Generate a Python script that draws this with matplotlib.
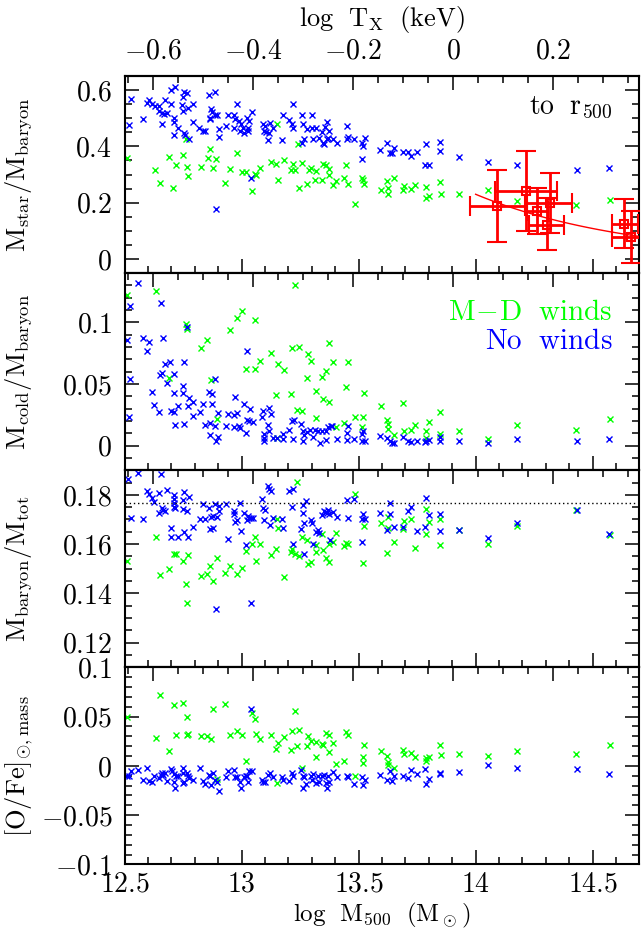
import numpy as np
import matplotlib
matplotlib.use("Agg")
import matplotlib.pyplot as plt
from matplotlib.ticker import MultipleLocator, FixedLocator, FuncFormatter, NullFormatter

plt.rcParams.update({
    "font.family": "serif",
    "font.serif": ["cmr10"],
    "mathtext.fontset": "cm",
    "axes.formatter.use_mathtext": True,
    "font.size": 20,
})

BLUE = "#0000ff"
GREEN = "#00ff00"
RED = "#ff0000"

# ---- panel 1: M_star / M_baryon  [log M500, value]
p1_blue = np.array([
    [12.526, 0.569], [12.517, 0.475], [12.580, 0.496], [12.594, 0.555], [12.605, 0.563],
    [12.615, 0.551], [12.630, 0.545], [12.648, 0.545], [12.648, 0.525], [12.658, 0.519],
    [12.668, 0.516], [12.658, 0.478], [12.672, 0.566], [12.682, 0.519], [12.697, 0.549],
    [12.697, 0.599], [12.715, 0.611], [12.711, 0.501], [12.711, 0.486], [12.711, 0.441],
    [12.729, 0.466], [12.744, 0.546], [12.748, 0.525], [12.751, 0.576], [12.754, 0.592],
    [12.768, 0.588], [12.772, 0.537], [12.791, 0.551], [12.793, 0.486], [12.754, 0.448],
    [12.758, 0.441], [12.776, 0.425], [12.819, 0.466], [12.836, 0.454], [12.843, 0.454],
    [12.862, 0.581], [12.868, 0.533], [12.872, 0.522], [12.865, 0.501], [12.865, 0.496],
    [12.886, 0.592], [12.886, 0.513], [12.896, 0.513], [12.903, 0.463], [12.905, 0.434],
    [12.933, 0.474], [12.943, 0.513], [12.967, 0.510], [12.972, 0.498], [12.967, 0.466],
    [12.979, 0.551], [12.990, 0.490], [12.996, 0.481], [13.004, 0.466], [12.993, 0.454],
    [13.011, 0.446], [13.021, 0.501], [13.028, 0.466], [13.028, 0.454], [13.033, 0.490],
    [13.043, 0.522], [13.038, 0.286], [12.890, 0.179], [13.090, 0.478], [13.095, 0.454],
    [13.100, 0.472], [13.104, 0.451], [13.121, 0.484], [13.115, 0.448], [13.132, 0.466],
    [13.114, 0.421], [13.171, 0.422], [13.175, 0.510], [13.204, 0.492], [13.214, 0.481],
    [13.218, 0.464], [13.221, 0.552], [13.256, 0.510], [13.261, 0.478], [13.256, 0.413],
    [13.266, 0.425], [13.278, 0.463], [13.299, 0.513], [13.306, 0.425], [13.299, 0.466],
    [13.318, 0.466], [13.332, 0.431], [13.342, 0.451], [13.346, 0.413], [13.356, 0.470],
    [13.363, 0.488], [13.375, 0.454], [13.363, 0.425], [13.352, 0.407], [13.370, 0.431],
    [13.389, 0.427], [13.409, 0.411], [13.449, 0.427], [13.452, 0.472], [13.456, 0.434],
    [13.480, 0.427], [13.513, 0.413], [13.517, 0.401], [13.527, 0.430], [13.513, 0.356],
    [13.591, 0.387], [13.622, 0.413], [13.634, 0.375], [13.641, 0.378], [13.651, 0.395],
    [13.688, 0.381], [13.712, 0.380], [13.722, 0.366], [13.751, 0.380], [13.783, 0.333],
    [13.790, 0.407], [13.802, 0.334], [13.848, 0.417], [13.848, 0.383], [13.929, 0.362],
    [14.053, 0.346], [14.177, 0.333], [14.433, 0.316], [14.570, 0.324],
])
p1_green = np.array([
    [12.509, 0.359], [12.630, 0.316], [12.651, 0.269], [12.708, 0.251], [12.689, 0.362],
    [12.719, 0.335], [12.751, 0.369], [12.768, 0.328], [12.772, 0.295], [12.762, 0.427],
    [12.825, 0.327], [12.855, 0.358], [12.865, 0.392], [12.879, 0.322], [12.890, 0.356],
    [12.929, 0.269], [12.950, 0.319], [12.981, 0.378], [13.000, 0.309], [13.017, 0.309],
    [13.043, 0.240], [13.057, 0.301], [13.061, 0.297], [13.078, 0.322], [13.124, 0.345],
    [13.147, 0.339], [13.154, 0.281], [13.150, 0.478], [13.181, 0.352], [13.209, 0.315],
    [13.218, 0.336], [13.228, 0.316], [13.245, 0.253], [13.256, 0.341], [13.281, 0.265],
    [13.289, 0.315], [13.295, 0.322], [13.318, 0.313], [13.313, 0.281], [13.342, 0.281],
    [13.346, 0.339], [13.360, 0.334], [13.373, 0.319], [13.375, 0.299], [13.389, 0.264],
    [13.403, 0.276], [13.439, 0.287], [13.446, 0.334], [13.456, 0.267], [13.484, 0.197],
    [13.513, 0.289], [13.517, 0.281], [13.523, 0.268], [13.242, 0.407],
    [13.594, 0.244], [13.622, 0.277], [13.627, 0.254], [13.627, 0.232], [13.651, 0.287],
    [13.691, 0.244], [13.695, 0.260], [13.722, 0.250], [13.741, 0.262], [13.788, 0.256],
    [13.790, 0.218], [13.802, 0.224], [13.848, 0.274], [13.850, 0.232], [13.929, 0.230],
    [14.054, 0.244], [14.175, 0.206], [14.431, 0.191], [14.574, 0.209],
])

# observed clusters (log M500, f_star) with error bar ends
obs_m = [14.092, 14.214, 14.263, 14.316, 14.303, 14.635, 14.664]
obs_m_lo = [13.978, 14.082, 14.218, 14.218, 14.229, 14.581, 14.585]
obs_m_hi = [14.211, 14.346, 14.311, 14.414, 14.379, 14.695, 14.716]
obs_f = [0.189, 0.242, 0.169, 0.198, 0.1215, 0.126, 0.077]
obs_f_lo = [0.061, 0.098, 0.0885, 0.094, 0.033, 0.038, -0.014]
obs_f_hi = [0.315, 0.383, 0.254, 0.304, 0.215, 0.212, 0.171]
# power-law fit to the observations
fit_m0, fit_norm, fit_slope = 14.0, 0.230, -0.653
fit_range = (14.0, 14.72)

# ---- panel 2: M_cold / M_baryon
p2_blue = np.array([
    [12.558, 0.1321], [12.523, 0.1134], [12.509, 0.0858], [12.523, 0.0539], [12.520, 0.0228],
    [12.580, 0.0876], [12.605, 0.0839], [12.597, 0.0766], [12.654, 0.1155], [12.662, 0.0876],
    [12.615, 0.0432], [12.625, 0.0330], [12.648, 0.0271], [12.672, 0.0665], [12.651, 0.0576],
    [12.658, 0.0585], [12.682, 0.0509], [12.694, 0.0678], [12.711, 0.0582], [12.697, 0.0284],
    [12.711, 0.0276], [12.711, 0.0426], [12.715, 0.0164], [12.729, 0.0324], [12.751, 0.0485],
    [12.748, 0.0429], [12.754, 0.0678], [12.754, 0.0174], [12.772, 0.0324], [12.776, 0.0383],
    [12.791, 0.0357], [12.793, 0.0236], [12.768, 0.0960], [12.822, 0.0271], [12.833, 0.0335],
    [12.843, 0.0169], [12.862, 0.0437], [12.865, 0.0182], [12.872, 0.0416], [12.875, 0.0338],
    [12.886, 0.0544], [12.886, 0.0161], [12.865, 0.0083], [12.890, 0.0040], [12.900, 0.0070],
    [12.897, 0.0268], [12.933, 0.0161], [12.943, 0.0257], [12.972, 0.0397], [12.967, 0.0249],
    [12.979, 0.0268], [12.969, 0.0150], [12.993, 0.0142], [12.990, 0.0156], [13.011, 0.0340],
    [13.019, 0.0102], [13.021, 0.0209], [13.033, 0.0201], [13.047, 0.0191], [13.036, 0.0295],
    [13.024, 0.0766], [13.085, 0.0230], [13.090, 0.0281], [13.095, 0.0094], [13.097, 0.0062],
    [13.097, 0.0040], [13.114, 0.0169], [13.118, 0.0308], [13.124, 0.0255], [13.118, 0.0115],
    [13.135, 0.0065], [13.150, 0.0062], [13.175, 0.0094], [13.175, 0.0057], [13.202, 0.0129],
    [13.214, 0.0196], [13.224, 0.0204], [13.218, 0.0051], [13.252, 0.0174], [13.264, 0.0115],
    [13.266, 0.0089], [13.261, 0.0040], [13.278, 0.0110], [13.292, 0.0129], [13.306, 0.0070],
    [13.313, 0.0129], [13.328, 0.0121], [13.335, 0.0022], [13.342, 0.0115], [13.360, 0.0115],
    [13.360, 0.0048], [13.370, 0.0148], [13.380, 0.0161], [13.385, 0.0156], [13.409, 0.0051],
    [13.449, 0.0046], [13.452, 0.0102], [13.456, 0.0156], [13.480, 0.0051], [13.513, 0.0097],
    [13.520, 0.0115], [13.513, 0.0040], [13.527, 0.0035],
    [13.591, 0.0075], [13.622, 0.0062], [13.634, 0.0035], [13.641, 0.0022], [13.651, 0.0022],
    [13.688, 0.0070], [13.712, 0.0035], [13.722, 0.0027], [13.751, 0.0035], [13.783, 0.0030],
    [13.790, 0.0040], [13.802, 0.0048], [13.848, 0.0035], [13.848, 0.0070], [13.929, 0.0035],
    [14.053, 0.0022], [14.177, 0.0057], [14.433, 0.0035], [14.570, 0.0051],
])
p2_green = np.array([
    [12.509, 0.1219], [12.632, 0.1251], [12.689, 0.0550], [12.762, 0.0986], [12.768, 0.0946],
    [12.825, 0.0793], [12.853, 0.0858], [12.868, 0.0531], [12.893, 0.0217], [12.950, 0.0938],
    [12.981, 0.1032], [13.000, 0.1093], [13.017, 0.0624], [13.057, 0.1021], [13.057, 0.0624],
    [13.078, 0.0686], [13.124, 0.0753], [13.145, 0.0410], [13.150, 0.0062], [13.157, 0.0659],
    [13.181, 0.0616], [13.209, 0.0418], [13.214, 0.0791], [13.228, 0.1303], [13.238, 0.0290],
    [13.246, 0.0799], [13.256, 0.0282], [13.281, 0.0552], [13.285, 0.0740], [13.295, 0.0686],
    [13.318, 0.0442], [13.318, 0.0223], [13.342, 0.0557], [13.349, 0.0378], [13.360, 0.0603],
    [13.375, 0.0357], [13.375, 0.0831], [13.389, 0.0678], [13.403, 0.0148], [13.446, 0.0472],
    [13.456, 0.0678], [13.437, 0.0182], [13.484, 0.0228], [13.517, 0.0228], [13.513, 0.0148],
    [13.523, 0.0429],
    [13.594, 0.0324], [13.622, 0.0204], [13.627, 0.0177], [13.627, 0.0137], [13.651, 0.0089],
    [13.691, 0.0349], [13.695, 0.0116], [13.722, 0.0124], [13.741, 0.0164], [13.788, 0.0116],
    [13.790, 0.0062], [13.802, 0.0188], [13.848, 0.0271], [13.848, 0.0097], [13.929, 0.0121],
    [14.054, 0.0057], [14.175, 0.0164], [14.431, 0.0124], [14.574, 0.0215],
])

# ---- panel 3: M_baryon / M_tot
p3_blue = np.array([
    [12.515, 0.1864], [12.526, 0.1708], [12.558, 0.1889], [12.580, 0.1703], [12.597, 0.1816],
    [12.605, 0.1804], [12.615, 0.1786], [12.625, 0.1769], [12.648, 0.1807], [12.654, 0.1886],
    [12.648, 0.1728], [12.658, 0.1745], [12.662, 0.1739], [12.672, 0.1736], [12.682, 0.1818],
    [12.697, 0.1666], [12.697, 0.1627], [12.711, 0.1800], [12.711, 0.1782], [12.711, 0.1766],
    [12.711, 0.1752], [12.715, 0.1745], [12.729, 0.1629], [12.748, 0.1780], [12.754, 0.1810],
    [12.751, 0.1741], [12.768, 0.1736], [12.776, 0.1793], [12.772, 0.1629], [12.754, 0.1650],
    [12.793, 0.1670], [12.822, 0.1703], [12.833, 0.1763], [12.843, 0.1700], [12.862, 0.1745],
    [12.865, 0.1663], [12.868, 0.1711], [12.876, 0.1714], [12.879, 0.1667], [12.886, 0.1763],
    [12.893, 0.1711], [12.903, 0.1736], [12.905, 0.1756], [12.933, 0.1763], [12.943, 0.1620],
    [12.967, 0.1736], [12.967, 0.1722], [12.972, 0.1691], [12.979, 0.1698], [12.993, 0.1766],
    [12.996, 0.1654], [13.011, 0.1728], [13.019, 0.1595], [13.021, 0.1698], [13.028, 0.1714],
    [13.033, 0.1708], [13.038, 0.1704], [13.047, 0.1708], [13.040, 0.1363], [12.890, 0.1338],
    [13.085, 0.1784], [13.093, 0.1745], [13.100, 0.1739], [13.097, 0.1698], [13.114, 0.1834],
    [13.118, 0.1823], [13.124, 0.1814], [13.121, 0.1677], [13.135, 0.1708], [13.171, 0.1700],
    [13.175, 0.1667], [13.204, 0.1816], [13.214, 0.1749], [13.218, 0.1825], [13.218, 0.1602],
    [13.252, 0.1663], [13.261, 0.1759], [13.261, 0.1725], [13.266, 0.1687], [13.275, 0.1773],
    [13.266, 0.1561], [13.295, 0.1698], [13.299, 0.1684], [13.306, 0.1602], [13.318, 0.1650],
    [13.328, 0.1657], [13.332, 0.1646], [13.342, 0.1718], [13.352, 0.1736], [13.360, 0.1732],
    [13.363, 0.1725], [13.370, 0.1739], [13.375, 0.1722], [13.377, 0.1618], [13.389, 0.1732],
    [13.409, 0.1711], [13.449, 0.1780], [13.456, 0.1704], [13.480, 0.1782], [13.513, 0.1700],
    [13.520, 0.1722], [13.527, 0.1700], [13.513, 0.1609],
    [13.591, 0.1728], [13.622, 0.1657], [13.634, 0.1766], [13.634, 0.1722], [13.651, 0.1670],
    [13.688, 0.1670], [13.712, 0.1734], [13.722, 0.1749], [13.751, 0.1652], [13.783, 0.1670],
    [13.790, 0.1786], [13.802, 0.1718], [13.848, 0.1721], [13.848, 0.1652], [13.929, 0.1659],
    [14.053, 0.1625], [14.177, 0.1687], [14.433, 0.1739], [14.570, 0.1643],
])
p3_green = np.array([
    [12.509, 0.1531], [12.632, 0.1627], [12.651, 0.1475], [12.689, 0.1499], [12.711, 0.1561],
    [12.719, 0.1561], [12.751, 0.1531], [12.762, 0.1438], [12.768, 0.1363], [12.772, 0.1555],
    [12.825, 0.1472], [12.853, 0.1479], [12.865, 0.1513], [12.879, 0.1449], [12.893, 0.1545],
    [12.929, 0.1482], [12.950, 0.1513], [12.981, 0.1479], [13.000, 0.1502], [13.017, 0.1572],
    [13.043, 0.1599], [13.057, 0.1627], [13.061, 0.1531], [13.078, 0.1599], [13.124, 0.1554],
    [13.147, 0.1581], [13.152, 0.1700], [13.157, 0.1667], [13.181, 0.1465], [13.209, 0.1566],
    [13.214, 0.1581], [13.228, 0.1561], [13.238, 0.1852], [13.246, 0.1551], [13.256, 0.1627],
    [13.281, 0.1616], [13.285, 0.1520], [13.295, 0.1527], [13.318, 0.1568], [13.318, 0.1595],
    [13.342, 0.1640], [13.349, 0.1577], [13.360, 0.1545], [13.375, 0.1527], [13.375, 0.1599],
    [13.389, 0.1609], [13.403, 0.1646], [13.437, 0.1591], [13.446, 0.1605], [13.456, 0.1599],
    [13.484, 0.1804], [13.517, 0.1523], [13.523, 0.1673],
    [13.594, 0.1687], [13.622, 0.1564], [13.627, 0.1711], [13.627, 0.1667], [13.651, 0.1609],
    [13.691, 0.1663], [13.695, 0.1693], [13.722, 0.1703], [13.741, 0.1584], [13.788, 0.1640],
    [13.790, 0.1743], [13.802, 0.1689], [13.848, 0.1700], [13.848, 0.1595], [13.929, 0.1657],
    [14.054, 0.1602], [14.175, 0.1673], [14.431, 0.1739], [14.574, 0.1635],
])
cosmic_baryon_fraction = 0.1765

# ---- panel 4: [O/Fe] mass weighted
p4_blue = np.array([
    [12.509, -0.0108], [12.520, -0.0108], [12.526, -0.0057], [12.558, -0.0040], [12.580, -0.0142],
    [12.597, -0.0023], [12.605, -0.0152], [12.615, -0.0159], [12.625, -0.0108], [12.648, -0.0125],
    [12.654, -0.0091], [12.658, -0.0074], [12.662, -0.0091], [12.672, -0.0074], [12.682, -0.0152],
    [12.697, -0.0030], [12.701, -0.0057], [12.711, -0.0084], [12.711, -0.0166], [12.715, -0.0220],
    [12.719, -0.0098], [12.729, -0.0098], [12.748, -0.0023], [12.748, -0.0176], [12.751, -0.0074],
    [12.754, -0.0159], [12.768, -0.0074], [12.772, -0.0108], [12.776, -0.0125], [12.791, -0.0142],
    [12.822, -0.0023], [12.833, -0.0152], [12.843, -0.0186], [12.862, -0.0091], [12.865, -0.0108],
    [12.868, -0.0199], [12.876, -0.0074], [12.886, -0.0142], [12.893, -0.0159], [12.903, -0.0260],
    [12.933, -0.0118], [12.943, -0.0057], [12.967, -0.0040], [12.972, -0.0118], [12.979, -0.0118],
    [12.993, -0.0166], [12.996, -0.0220], [13.011, -0.0115], [13.019, -0.0098], [13.021, -0.0108],
    [13.028, -0.0166], [13.033, -0.0057], [13.043, -0.0057], [13.040, 0.0580], [13.085, -0.0142],
    [13.093, -0.0166], [13.100, -0.0166], [13.114, -0.0091], [13.121, -0.0074], [13.135, -0.0111],
    [13.171, -0.0118], [13.175, -0.0145], [13.204, -0.0152], [13.214, -0.0074], [13.218, -0.0108],
    [13.252, -0.0040], [13.261, -0.0108], [13.261, -0.0220], [13.266, -0.0111], [13.275, -0.0186],
    [13.295, -0.0108], [13.299, -0.0145], [13.306, -0.0084], [13.318, -0.0176], [13.328, -0.0108],
    [13.332, -0.0159], [13.342, -0.0098], [13.352, -0.0091], [13.360, -0.0179], [13.363, -0.0227],
    [13.370, -0.0098], [13.375, -0.0166], [13.389, -0.0064], [13.409, -0.0111], [13.449, -0.0108],
    [13.456, -0.0118], [13.480, -0.0182], [13.513, -0.0118], [13.520, -0.0193], [13.527, -0.0145],
    [13.591, -0.0091], [13.622, -0.0142], [13.634, -0.0057], [13.641, -0.0149], [13.651, -0.0098],
    [13.688, -0.0101], [13.712, -0.0125], [13.722, -0.0047], [13.751, -0.0084], [13.783, -0.0030],
    [13.790, -0.0183], [13.802, -0.0132], [13.848, -0.0084], [13.848, -0.0074], [13.929, -0.0061],
    [14.053, 0.0011], [14.177, -0.0023], [14.433, -0.0030], [14.570, -0.0081],
])
p4_green = np.array([
    [12.509, 0.0491], [12.632, 0.0281], [12.651, 0.0715], [12.689, 0.0146], [12.711, 0.0613],
    [12.719, 0.0308], [12.751, 0.0637], [12.768, 0.0491], [12.768, 0.0315], [12.772, 0.0322],
    [12.825, 0.0298], [12.853, 0.0305], [12.868, 0.0268], [12.879, 0.0580], [12.893, -0.0132],
    [12.929, 0.0627], [12.950, 0.0312], [12.981, 0.0356], [13.000, 0.0308], [13.017, 0.0054],
    [13.043, 0.0535], [13.057, 0.0474], [13.061, 0.0325], [13.078, 0.0268], [13.124, 0.0315],
    [13.147, 0.0173], [13.152, -0.0179], [13.157, 0.0227], [13.181, 0.0292], [13.209, 0.0163],
    [13.214, 0.0356], [13.228, 0.0559], [13.238, 0.0204], [13.246, 0.0359], [13.256, -0.0017],
    [13.281, 0.0204], [13.285, 0.0298], [13.295, 0.0248], [13.318, 0.0241], [13.318, 0.0088],
    [13.342, 0.0221], [13.346, 0.0207], [13.360, 0.0332], [13.375, 0.0308], [13.375, 0.0139],
    [13.389, 0.0231], [13.403, 0.0021], [13.437, 0.0054], [13.446, 0.0342], [13.456, 0.0315],
    [13.484, -0.0098], [13.517, 0.0024], [13.520, 0.0085], [13.523, 0.0207],
    [13.594, 0.0146], [13.622, 0.0095], [13.627, 0.0044], [13.627, 0.0004], [13.651, -0.0023],
    [13.691, 0.0163], [13.695, 0.0122], [13.722, 0.0126], [13.741, 0.0085], [13.788, 0.0051],
    [13.790, 0.0078], [13.802, 0.0092], [13.848, 0.0207], [13.850, 0.0112], [13.929, 0.0119],
    [14.054, 0.0099], [14.175, 0.0146], [14.431, 0.0122], [14.574, 0.0207],
])

# top axis: log T_X is a linear rescaling of log M500
tx_at_m0, tx_per_dex = -0.657, 0.468
tx_ticks = [-0.6, -0.4, -0.2, 0.0, 0.2]


def m_to_t(m):
    return tx_at_m0 + tx_per_dex * (np.asarray(m) - 12.5)


def t_to_m(t):
    return 12.5 + (np.asarray(t) - tx_at_m0) / tx_per_dex


def fmt(v, pos):
    v = round(v, 6)
    if v == 0:
        return r"$\mathdefault{0}$"
    return r"$\mathdefault{%g}$" % v if v > 0 else r"$\mathdefault{-%g}$" % abs(v)


panels = [
    dict(blue=p1_blue, green=p1_green, ylim=(-0.05, 0.65), major=0.2, minor=0.05,
         label=r"$\mathrm{M_{star}/M_{baryon}}$"),
    dict(blue=p2_blue, green=p2_green, ylim=(-0.02, 0.14), major=0.05, minor=0.01,
         label=r"$\mathrm{M_{cold}/M_{baryon}}$"),
    dict(blue=p3_blue, green=p3_green, ylim=(0.11, 0.19), major=0.02, minor=0.005,
         label=r"$\mathrm{M_{baryon}/M_{tot}}$"),
    dict(blue=p4_blue, green=p4_green, ylim=(-0.1, 0.1), major=0.05, minor=0.01,
         label=r"$\mathrm{[O/Fe]_{\odot,mass}}$"),
]

fig = plt.figure(figsize=(6.41, 9.36), dpi=100)
axes = fig.subplots(4, 1, sharex=True, gridspec_kw=dict(hspace=0))
fig.subplots_adjust(left=0.1945, right=0.9975, top=0.9188, bottom=0.0765)

for i, (ax, p) in enumerate(zip(axes, panels)):
    ax.plot(p["green"][:, 0], p["green"][:, 1], "x", color=GREEN, ms=4.5, mew=1.0)
    ax.plot(p["blue"][:, 0], p["blue"][:, 1], "x", color=BLUE, ms=4.5, mew=1.0)
    ax.set_xlim(12.5, 14.7)
    ax.set_ylim(*p["ylim"])
    ax.yaxis.set_major_locator(MultipleLocator(p["major"]))
    ax.yaxis.set_minor_locator(MultipleLocator(p["minor"]))
    ax.yaxis.set_major_formatter(FuncFormatter(fmt))
    ax.xaxis.set_major_locator(MultipleLocator(0.5))
    ax.xaxis.set_minor_locator(MultipleLocator(0.1))
    ax.xaxis.set_major_formatter(FuncFormatter(fmt))
    ax.tick_params(which="both", direction="in", top=False, right=True, width=1.1, pad=9)
    ax.tick_params(axis="x", pad=5)
    ax.tick_params(which="major", length=10)
    ax.tick_params(which="minor", length=5)
    for s in ax.spines.values():
        s.set_linewidth(1.5)
    ax.set_ylabel(p["label"], fontsize=19)
    ax.yaxis.set_label_coords(-0.175, 0.5)

    sec = ax.secondary_xaxis("top", functions=(m_to_t, t_to_m))
    sec.xaxis.set_major_locator(FixedLocator(tx_ticks))
    sec.xaxis.set_minor_locator(MultipleLocator(0.05))
    sec.tick_params(which="both", direction="in", width=1.1, pad=8)
    sec.tick_params(which="major", length=10)
    sec.tick_params(which="minor", length=5)
    sec.spines["top"].set_linewidth(1.5)
    if i == 0:
        sec.xaxis.set_major_formatter(FuncFormatter(fmt))
        sec.set_xlabel(r"$\mathrm{log\ \ T_X\ \ (keV)}$", fontsize=19, labelpad=9)
    else:
        sec.xaxis.set_major_formatter(NullFormatter())

# observations and fit in the top panel
ax = axes[0]
obs_m_a, obs_f_a = np.array(obs_m), np.array(obs_f)
xerr = [obs_m_a - np.array(obs_m_lo), np.array(obs_m_hi) - obs_m_a]
yerr = [obs_f_a - np.array(obs_f_lo), np.array(obs_f_hi) - obs_f_a]
ax.errorbar(obs_m_a, obs_f_a, xerr=xerr, yerr=yerr, fmt="s", color=RED, mfc="none",
            mec=RED, ms=5.5, mew=1.5, elinewidth=2, capsize=7, capthick=2, zorder=5)
fit_m = np.linspace(*fit_range, 60)
ax.plot(fit_m, fit_norm * 10 ** (fit_slope * (fit_m - fit_m0)), color=RED, lw=1, zorder=4)
ax.text(0.948, 0.84, r"$\mathrm{to\ \ r_{500}}$", transform=ax.transAxes,
        ha="right", va="center", fontsize=20)

axes[1].text(0.948, 0.80, r"$\mathrm{M\!-\!D\ \ winds}$", color=GREEN,
             transform=axes[1].transAxes, ha="right", va="center", fontsize=21)
axes[1].text(0.948, 0.65, r"$\mathrm{No\ \ winds}$", color=BLUE,
             transform=axes[1].transAxes, ha="right", va="center", fontsize=21)

axes[2].axhline(cosmic_baryon_fraction, color="k", ls=(0, (1, 2)), lw=1)

axes[3].set_xlabel(r"$\mathrm{log\ \ M_{500}\ \ (M_\odot)}$", fontsize=18, labelpad=2)

fig.savefig("out.png", dpi=100)
